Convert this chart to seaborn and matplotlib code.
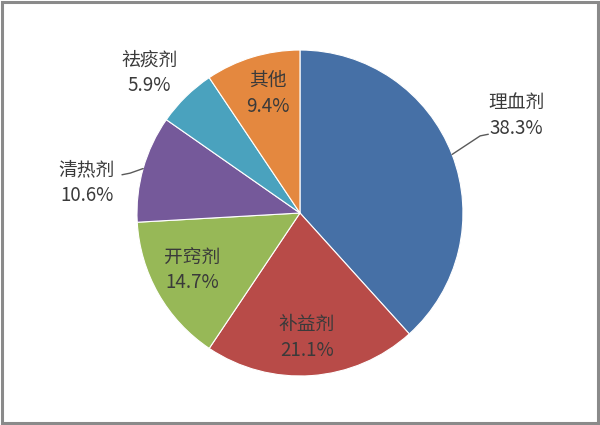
import numpy as np
import seaborn as sns
import matplotlib.pyplot as plt
from matplotlib.patches import Rectangle

names = ['理血剂', '补益剂', '开窍剂', '清热剂', '祛痰剂', '其他']
shares = [38.3, 21.1, 14.7, 10.6, 5.9, 9.4]
colors = ['#4670A6', '#B84B48', '#97B857', '#75599A', '#4AA2BE', '#E4883F']

# label placement: distance from centre (radii), angle tweak (deg)
label_dist = [1.455, 0.767, 0.75, 1.32, 1.264, 0.76]
label_turn = [3.3, -0.9, -1.9, 7.8, 2.6, -1.9]
# leader lines: horizontal gap from label centre and height offset (0 = none)
lead_gap = [0.17, 0, 0, 0.215, 0, 0]
lead_dy = [-0.117, 0, 0, 0.05, 0, 0]

sns.set_theme(style='white')
plt.rcParams['font.family'] = ['Noto Sans CJK SC', 'DejaVu Sans']

fig = plt.figure(figsize=(6, 4.25), dpi=100)
fig.patches.append(Rectangle((0.003, 0.005), 0.994, 0.99, transform=fig.transFigure,
                             fill=False, edgecolor='#8a8a8a', linewidth=2.2))

ax = fig.add_axes([0.2283, 0.1153, 0.5433, 0.767])
pal = sns.color_palette(colors)
wedges, _ = ax.pie(shares, colors=pal, startangle=90, counterclock=False,
                   wedgeprops=dict(edgecolor='white', linewidth=0.8))

for i, (w, name, val) in enumerate(zip(wedges, names, shares)):
    mid = (w.theta1 + w.theta2) / 2
    t = np.deg2rad(mid + label_turn[i])
    x, y = label_dist[i] * np.cos(t), label_dist[i] * np.sin(t)
    ax.text(x, y, f'{name}\n{val}%', ha='center', va='center', fontsize=13.5,
            color='#3a3a3a', linespacing=1.3)
    if lead_gap[i]:
        a = np.deg2rad(mid)
        side = np.sign(x)
        endx = x - side * lead_gap[i]
        ky = y + lead_dy[i]
        ax.plot([np.cos(a), endx - side * 0.05, endx], [np.sin(a), ky - 0.01 * side, ky],
                color='#5a5a5a', lw=1.0, clip_on=False)

ax.set_xlim(-1, 1)
ax.set_ylim(-1, 1)
ax.set_aspect('equal')
ax.axis('off')

fig.savefig('out.png', dpi=100)
